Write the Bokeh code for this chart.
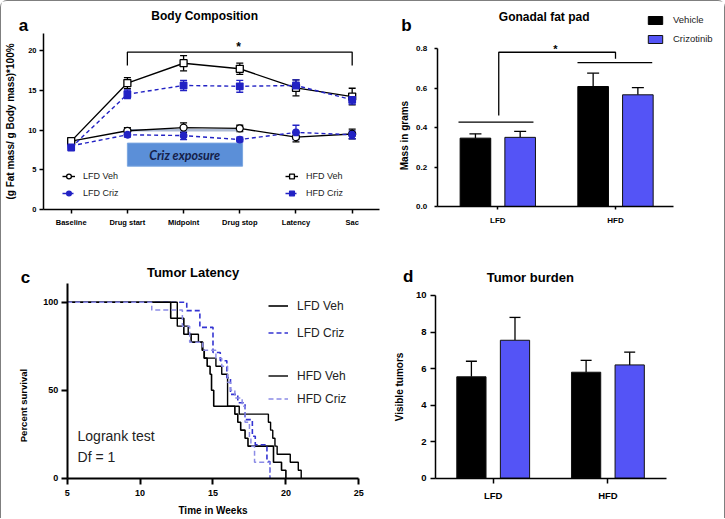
import math

from bokeh.plotting import figure
from bokeh.models import (ColumnDataSource, Whisker, TeeHead, Label, Legend, LegendItem,
                          FixedTicker, Range1d, NumeralTickFormatter)
from bokeh.layouts import row, column
from bokeh.embed import file_html
from bokeh.resources import INLINE

FONT = "Liberation Sans"
LINE_BLUE = "#2222c4"
BAR_BLUE = "#5454f6"

# ---------------- a: body composition ----------------
timepoints = ["Baseline", "Drug start", "Midpoint", "Drug stop", "Latency", "Sac"]
lfd_veh = [8.6, 9.9, 10.3, 10.2, 9.1, 9.5]
lfd_veh_sem = [0.4, 0.4, 0.6, 0.4, 0.6, 0.6]
lfd_criz = [8.0, 9.4, 9.3, 8.8, 9.7, 9.4]
lfd_criz_sem = [0.3, 0.3, 0.5, 0.3, 0.9, 0.5]
hfd_veh = [8.6, 15.9, 18.4, 17.7, 15.3, 14.2]
hfd_veh_sem = [0.4, 0.7, 0.95, 0.7, 1.0, 1.05]
hfd_criz = [7.8, 14.5, 15.6, 15.5, 15.6, 13.8]
hfd_criz_sem = [0.3, 0.55, 0.65, 0.75, 0.7, 0.55]
exposure_x = [1.0, 3.05]
exposure_y = [5.45, 8.35]
exposure_ref_y = 9.97
sig_a_x = [1, 1, 5, 5]
sig_a_y = [18.1, 19.8, 19.8, 18.1]

# ---------------- b: gonadal fat pad ----------------
diets = ["LFD", "HFD"]
fat_vehicle = [0.347, 0.609]
fat_vehicle_sem = [0.022, 0.068]
fat_criz = [0.351, 0.567]
fat_criz_sem = [0.030, 0.036]
group_line_y = [0.428, 0.73]
group_line_x = [[0.666, 1.303], [1.677, 2.312]]
sig_b_x = [1.008, 1.008, 2.0, 2.0]
sig_b_y = [0.462, 0.783, 0.783, 0.75]

# ---------------- c: tumor latency (Kaplan-Meier) ----------------
lfd_veh_t = [5, 12.1, 13.0, 13.5, 14.3, 14.4, 14.6, 14.8, 14.9, 15.05, 16.5, 16.7, 16.9, 17.2, 17.4, 19.15, 19.7, 20.0]
lfd_veh_s = [100, 90.9, 81.8, 77.3, 72.7, 68.2, 63.6, 59.1, 50.0, 40.9, 36.4, 31.8, 27.3, 22.7, 18.2, 9.1, 4.5, 0]
lfd_criz_t = [5, 13.2, 14.1, 15.0, 15.5, 15.95, 16.2, 16.7, 17.2, 17.7, 17.9, 18.7, 18.9]
lfd_criz_s = [100, 95.2, 85.7, 71.4, 66.7, 57.1, 47.6, 42.9, 33.3, 23.8, 19.0, 9.5, 0]
hfd_veh_t = [5, 12.55, 13.3, 14.0, 14.25, 14.4, 15.2, 15.6, 16.0, 16.8, 18.8, 18.95, 19.1, 19.25, 19.4, 20.3, 20.85, 21.05]
hfd_veh_s = [100, 86.4, 81.8, 77.3, 72.7, 68.2, 63.6, 59.1, 40.9, 36.4, 31.8, 27.3, 22.7, 18.2, 13.6, 9.1, 4.5, 0]
hfd_criz_t = [5, 10.8, 12.9, 13.4, 14.3, 15.2, 15.6, 16.0, 16.2, 16.5, 17.0, 17.2, 17.5, 17.6, 17.85, 18.9]
hfd_criz_s = [100, 95.5, 86.4, 77.3, 72.7, 68.2, 63.6, 54.5, 50.0, 45.5, 40.9, 31.8, 22.7, 18.2, 9.1, 0]

# ---------------- d: tumor burden ----------------
tumors_vehicle = [5.55, 5.8]
tumors_vehicle_sem = [0.85, 0.65]
tumors_criz = [7.55, 6.2]
tumors_criz_sem = [1.25, 0.7]


def panel(width, height, xr, yr):
    """Figure whose frame fills the canvas; axes sit at fixed data positions."""
    p = figure(width=width, height=height, x_range=Range1d(*xr), y_range=Range1d(*yr),
               output_backend="svg", toolbar_location=None, min_border=0)
    p.outline_line_color = None
    p.xgrid.visible = False
    p.ygrid.visible = False
    p.background_fill_color = "white"
    p.border_fill_color = "white"
    return p


def style_axes(p, x_at, y_at, xb, yb, tick_size, label_size, axis_width=1.5, tick_out=4):
    p.yaxis.fixed_location = x_at
    p.xaxis.fixed_location = y_at
    p.xaxis.bounds = xb
    p.yaxis.bounds = yb
    for ax in (p.xaxis[0], p.yaxis[0]):
        ax.axis_line_width = axis_width
        ax.axis_line_color = "black"
        ax.major_tick_line_color = "black"
        ax.major_tick_line_width = axis_width
        ax.minor_tick_line_color = None
        ax.major_tick_in = 0
        ax.major_tick_out = tick_out
        ax.major_label_text_font = FONT
        ax.major_label_text_font_style = "bold"
        ax.major_label_text_font_size = tick_size
        ax.major_label_text_color = "black"
        ax.axis_label_text_font = FONT
        ax.axis_label_text_font_style = "bold"
        ax.axis_label_text_font_size = label_size
        ax.axis_label_text_color = "black"


def text(p, x, y, s, size, bold=True, align="center", italic=False, color="black",
         font=FONT, angle=0):
    if bold and italic:
        fs = "bold italic"
    elif bold:
        fs = "bold"
    elif italic:
        fs = "italic"
    else:
        fs = "normal"
    p.add_layout(Label(x=x, y=y, text=s, text_font=font, text_font_size=size,
                       text_font_style=fs, text_align=align, text_baseline="middle",
                       text_color=color, angle=angle))


def make_legend(items, loc, glyph_w, glyph_h, spacing, size, standoff):
    lg = Legend(items=items, location=loc, orientation="vertical")
    lg.background_fill_alpha = 0
    lg.border_line_color = None
    lg.padding = 0
    lg.margin = 0
    lg.spacing = spacing
    lg.glyph_width = glyph_w
    lg.glyph_height = glyph_h
    lg.label_height = glyph_h
    lg.label_standoff = standoff
    lg.label_text_font = FONT
    lg.label_text_font_size = size
    lg.label_text_color = "#222222"
    return lg


# ====== panel a ======
pa = panel(379, 250, (-1.240, 5.504), (-5.283, 26.164))
style_axes(pa, -0.493, 0, (-0.493, 5.486), (0, 22.1), "7.5px", "10px")
pa.xaxis.ticker = FixedTicker(ticks=list(range(len(timepoints))))
pa.xaxis.major_label_overrides = {i: t for i, t in enumerate(timepoints)}
pa.xaxis.major_label_standoff = 4
pa.yaxis.ticker = FixedTicker(ticks=[0, 5, 10, 15, 20])
pa.yaxis.major_label_standoff = 3
pa.yaxis.axis_label = "(g Fat mass/ g Body mass)*100%"
pa.yaxis.axis_label_standoff = 9

idx = list(range(len(timepoints)))
pa.quad(left=[exposure_x[0]], right=[exposure_x[1]], bottom=[exposure_y[0]], top=[exposure_y[1]],
        fill_color="#5b8fd8", line_color="#7aa6e0", line_width=1)
pa.line(x=[1, 3], y=[exposure_ref_y, exposure_ref_y], line_color="#aebbd4", line_width=2.5)
text(pa, 2.02, 6.85, "Criz exposure", "12.5px", bold=True, italic=True, color="#152049", font="Lato")

series = [
    ("LFD Veh", lfd_veh, lfd_veh_sem, "black", "solid", "circle", "white"),
    ("LFD Criz", lfd_criz, lfd_criz_sem, LINE_BLUE, "4 3", "circle", LINE_BLUE),
    ("HFD Veh", hfd_veh, hfd_veh_sem, "black", "solid", "square", "white"),
    ("HFD Criz", hfd_criz, hfd_criz_sem, LINE_BLUE, "4 3", "square", LINE_BLUE),
]
legend_items = {}
for name, vals, sem, col, dash, marker, fill in series:
    src = ColumnDataSource(dict(x=idx, y=vals,
                                upper=[v + e for v, e in zip(vals, sem)],
                                lower=[v - e for v, e in zip(vals, sem)]))
    pa.add_layout(Whisker(source=src, base="x", upper="upper", lower="lower",
                          line_color=col, line_width=1.3,
                          upper_head=TeeHead(size=7, line_color=col, line_width=1.3),
                          lower_head=TeeHead(size=7, line_color=col, line_width=1.3)))
    lr = pa.line("x", "y", source=src, line_color=col, line_width=1.4, line_dash=dash)
    sr = pa.scatter("x", "y", source=src, marker=marker, size=7 if fill == "white" else 6.5,
                    line_color=col, fill_color=fill, line_width=1.3)
    legend_items[name] = LegendItem(label=name, renderers=[lr, sr])

pa.add_layout(make_legend([legend_items["LFD Veh"], legend_items["LFD Criz"]], (61, 52),
                          13, 12, 5, "9px", 8))
pa.add_layout(make_legend([legend_items["HFD Veh"], legend_items["HFD Criz"]], (284, 52),
                          13, 12, 5, "9px", 8))
pa.line(x=sig_a_x, y=sig_a_y, line_color="black", line_width=1.3)
text(pa, 2.98, 20.4, "*", "12px")
text(pa, 2.375, 24.28, "Body Composition", "12px")
text(pa, -0.849, 23.2, "a", "17px")

# ====== panel b ======
pb = panel(344, 250, (0.0034, 2.926), (-0.2284, 1.0406))
style_axes(pb, 0.485, 0, (0.485, 2.49), (0, 0.8), "8px", "10px", tick_out=3)
pb.xaxis.ticker = FixedTicker(ticks=[1, 2])
pb.xaxis.major_label_overrides = {1: diets[0], 2: diets[1]}
pb.xaxis.major_label_standoff = 6
pb.yaxis.ticker = FixedTicker(ticks=[0, 0.2, 0.4, 0.6, 0.8])
pb.yaxis.formatter = NumeralTickFormatter(format="0.0")
pb.yaxis.major_label_standoff = 7
text(pb, 0.207, 0.36, "Mass in grams", "10px", angle=math.pi / 2)

grp = [1, 2]
off = 0.19
bx_v = [g - off for g in grp]
bx_c = [g + off for g in grp]
for xs, vals, sem in ((bx_v, fat_vehicle, fat_vehicle_sem), (bx_c, fat_criz, fat_criz_sem)):
    src = ColumnDataSource(dict(x=xs, top=vals, upper=[v + e for v, e in zip(vals, sem)]))
    pb.add_layout(Whisker(source=src, base="x", upper="upper", lower="top",
                          line_color="black", line_width=1.3,
                          upper_head=TeeHead(size=12, line_color="black", line_width=1.3),
                          lower_head=None))
vb_v = pb.vbar(x=bx_v, top=fat_vehicle, width=0.26, fill_color="black", line_color="black", line_width=1)
vb_c = pb.vbar(x=bx_c, top=fat_criz, width=0.26, fill_color=BAR_BLUE, line_color="#111111", line_width=1)
pb.multi_line(xs=group_line_x, ys=[[y, y] for y in group_line_y], line_color="black", line_width=1.3)
pb.line(x=sig_b_x, y=sig_b_y, line_color="black", line_width=1.3)
text(pb, 1.49, 0.797, "*", "11px")
text(pb, 1.394, 0.964, "Gonadal fat pad", "12px")
text(pb, 0.224, 0.919, "b", "17px")
pb.add_layout(make_legend([LegendItem(label="Vehicle", renderers=[vb_v]),
                           LegendItem(label="Crizotinib", renderers=[vb_c])],
                          (266, 207), 18, 10, 8, "9.5px", 9))

# ====== panel c ======
pc = panel(379, 267, (0.494, 26.489), (-22.898, 128.807))
style_axes(pc, 5, 0, (5, 25), (0, 110.5), "9px", "9.5px", axis_width=2, tick_out=6)
pc.xaxis.ticker = FixedTicker(ticks=[5, 10, 15, 20, 25])
pc.xaxis.major_label_standoff = 6
pc.xaxis.axis_label = "Time in Weeks"
pc.xaxis.axis_label_text_font_size = "10px"
pc.xaxis.axis_label_standoff = 5
pc.yaxis.ticker = FixedTicker(ticks=[0, 50, 100])
pc.yaxis.major_label_standoff = 3
text(pc, 2.0, 41.3, "Percent survival", "9.5px", angle=math.pi / 2)

r_lv = pc.step(lfd_veh_t, lfd_veh_s, mode="after", line_color="black", line_width=1.6)
r_lc = pc.step(lfd_criz_t, lfd_criz_s, mode="after", line_color="#3434d2", line_width=1.6, line_dash="5 3")
r_hv = pc.step(hfd_veh_t, hfd_veh_s, mode="after", line_color="black", line_width=1.4)
r_hc = pc.step(hfd_criz_t, hfd_criz_s, mode="after", line_color="#8c8ce6", line_width=1.5, line_dash="5 3")
pc.add_layout(make_legend([LegendItem(label="LFD Veh", renderers=[r_lv]),
                           LegendItem(label="LFD Criz", renderers=[r_lc])],
                          (267, 178), 20, 15, 12, "12px", 9))
pc.add_layout(make_legend([LegendItem(label="HFD Veh", renderers=[r_hv]),
                           LegendItem(label="HFD Criz", renderers=[r_hc])],
                          (267, 112), 20, 15, 8, "12px", 9))
text(pc, 5.71, 23.7, "Logrank test", "14px", bold=False, align="left", color="#222222")
text(pc, 5.71, 12.3, "Df = 1", "14px", bold=False, align="left", color="#222222")
text(pc, 13.63, 116.7, "Tumor Latency", "13px")
text(pc, 2.14, 114.2, "c", "17px")

# ====== panel d ======
pd_ = panel(344, 267, (0.01744, 3.0166), (-2.206, 12.408))
style_axes(pd_, 0.497, 0, (0.497, 2.511), (0, 10), "9.5px", "10px", tick_out=5)
pd_.xaxis.ticker = FixedTicker(ticks=[1, 2])
pd_.xaxis.major_label_overrides = {1: diets[0], 2: diets[1]}
pd_.xaxis.major_label_standoff = 7
pd_.yaxis.ticker = FixedTicker(ticks=[0, 2, 4, 6, 8, 10])
pd_.yaxis.major_label_standoff = 4
pd_.yaxis.axis_label = "Visible tumors"
pd_.yaxis.axis_label_standoff = 8

for xs, vals, sem, col in ((bx_v, tumors_vehicle, tumors_vehicle_sem, "black"),
                           (bx_c, tumors_criz, tumors_criz_sem, BAR_BLUE)):
    src = ColumnDataSource(dict(x=xs, top=vals, upper=[v + e for v, e in zip(vals, sem)]))
    pd_.add_layout(Whisker(source=src, base="x", upper="upper", lower="top",
                           line_color="black", line_width=1.3,
                           upper_head=TeeHead(size=11, line_color="black", line_width=1.3),
                           lower_head=None))
    pd_.vbar(x=xs, top=vals, width=0.255, fill_color=col, line_color="#111111", line_width=1)
text(pd_, 1.323, 10.97, "Tumor burden", "13px")
text(pd_, 0.259, 11.06, "d", "17px")

page = column(row(pa, pb), row(pc, pd_),
              styles={"border": "1px solid #7f7f7f", "border-bottom": "none",
                      "border-radius": "7px 7px 0 0"})
open("out.html", "w").write(file_html(page, INLINE))
